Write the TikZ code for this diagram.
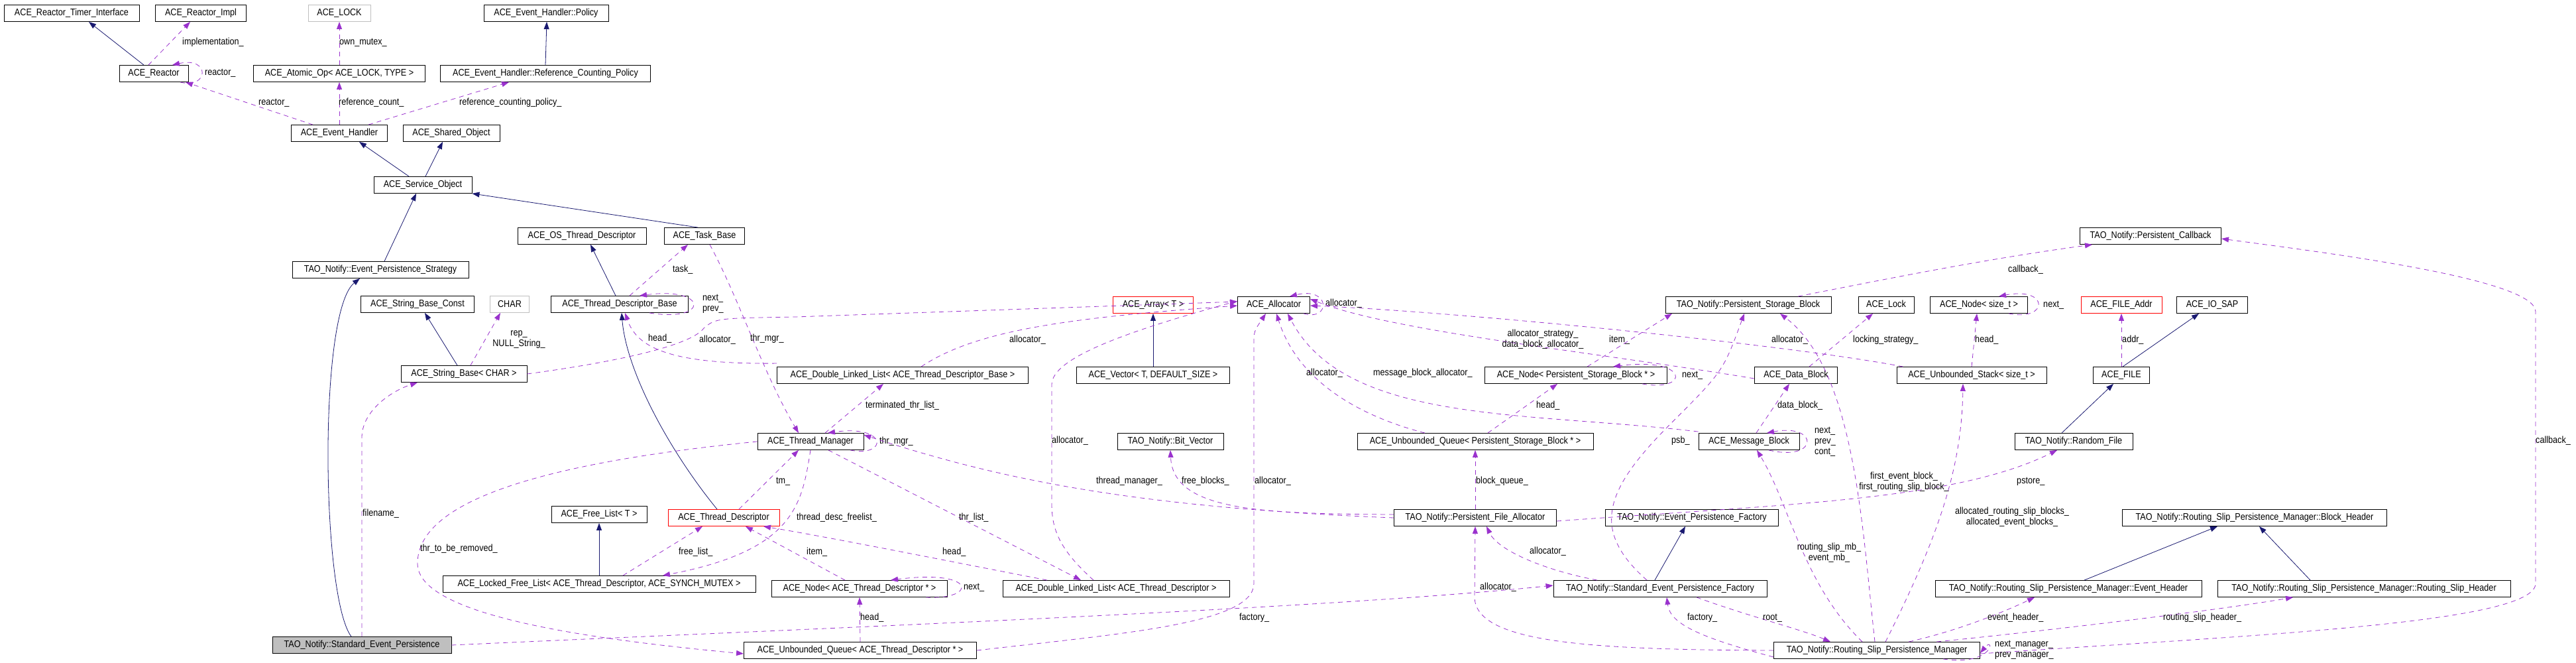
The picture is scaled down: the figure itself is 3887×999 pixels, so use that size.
\documentclass[tikz,border=0pt]{standalone}
\usepackage{fontspec}
\setmainfont{Liberation Sans}[FakeStretch=0.87]
\usetikzlibrary{arrows.meta}
\definecolor{inhc}{RGB}{25,25,112}
\definecolor{usec}{RGB}{154,50,205}
\definecolor{grayb}{RGB}{191,191,191}
\tikzset{
  box/.style={draw=black,line width=0.9pt,minimum height=25pt,inner sep=0pt,font=\fontsize{14.5}{15}\selectfont,fill=white},
  redbox/.style={box,draw=red},
  graybox/.style={box,draw=grayb},
  inh/.style={draw=inhc,line width=0.8pt,-{Triangle[length=11pt,width=8pt]}},
  use/.style={draw=usec,line width=0.8pt,dash pattern=on 7pt off 6pt,-{Triangle[length=11pt,width=8pt]}},
  lbl/.style={font=\fontsize{14.5}{16}\selectfont,inner sep=0pt,anchor=west,align=left},
  clbl/.style={font=\fontsize{14.5}{16}\selectfont,inner sep=0pt,align=center},
}
\begin{document}
\begin{tikzpicture}[x=1pt,y=-1pt]
\useasboundingbox (0,0) rectangle (3887,999);
% nodes
\node[box,minimum width=204pt] (rti) at (108,20) {ACE\_Reactor\_Timer\_Interface};
\node[box,minimum width=137pt] (rimpl) at (303,20) {ACE\_Reactor\_Impl};
\node[graybox,minimum width=94pt] (lock) at (512,20) {ACE\_LOCK};
\node[box,minimum width=188pt] (policy) at (824,20) {ACE\_Event\_Handler::Policy};
\node[box,minimum width=104pt] (reactor) at (232,111) {ACE\_Reactor};
\node[box,minimum width=259pt] (atomic) at (512,111) {ACE\_Atomic\_Op< ACE\_LOCK, TYPE >};
\node[box,minimum width=317pt] (rcp) at (823,111) {ACE\_Event\_Handler::Reference\_Counting\_Policy};
\node[box,minimum width=145pt] (eh) at (512,201) {ACE\_Event\_Handler};
\node[box,minimum width=146pt] (so) at (681,201) {ACE\_Shared\_Object};
\node[box,minimum width=148pt] (svc) at (638,279) {ACE\_Service\_Object};
\node[box,minimum width=266pt] (eps) at (574,407) {TAO\_Notify::Event\_Persistence\_Strategy};
\node[box,minimum width=171pt] (sbc) at (630,459) {ACE\_String\_Base\_Const};
\node[graybox,minimum width=59pt] (char) at (769,459) {CHAR};
\node[box,minimum width=194pt] (ostd) at (878,356) {ACE\_OS\_Thread\_Descriptor};
\node[box,minimum width=207pt] (tdb) at (935,459) {ACE\_Thread\_Descriptor\_Base};
\node[box,minimum width=121pt] (task) at (1063,356) {ACE\_Task\_Base};
\node[box,minimum width=190pt] (sb) at (700,564) {ACE\_String\_Base< CHAR >};
\node[box,minimum width=160pt] (tm) at (1223,666) {ACE\_Thread\_Manager};
\node[redbox,minimum width=168pt] (td) at (1092,781) {ACE\_Thread\_Descriptor};
\node[box,minimum width=144pt] (fl) at (904,776) {ACE\_Free\_List< T >};
\node[box,minimum width=472pt] (lfl) at (904,881) {ACE\_Locked\_Free\_List< ACE\_Thread\_Descriptor, ACE\_SYNCH\_MUTEX >};
\node[redbox,minimum width=121pt] (array) at (1740,460) {ACE\_Array< T >};
\node[box,minimum width=109pt] (alloc) at (1922,460) {ACE\_Allocator};
\node[box,minimum width=379pt] (dlltdb) at (1362,566) {ACE\_Double\_Linked\_List< ACE\_Thread\_Descriptor\_Base >};
\node[box,minimum width=231pt] (vec) at (1740,566) {ACE\_Vector< T, DEFAULT\_SIZE >};
\node[box,minimum width=160pt] (bitvec) at (1766,666) {TAO\_Notify::Bit\_Vector};
\node[box,minimum width=265pt] (nodetd) at (1297,888) {ACE\_Node< ACE\_Thread\_Descriptor * >};
\node[box,minimum width=342pt] (dlltd) at (1684,888) {ACE\_Double\_Linked\_List< ACE\_Thread\_Descriptor >};
\node[box,minimum width=351pt] (uqtd) at (1298,981) {ACE\_Unbounded\_Queue< ACE\_Thread\_Descriptor * >};
\node[box,fill=grayb,minimum width=270pt] (sep) at (546,973) {TAO\_Notify::Standard\_Event\_Persistence};
\node[box,minimum width=250pt] (psb) at (2638,460) {TAO\_Notify::Persistent\_Storage\_Block};
\node[box,minimum width=84pt] (acelock) at (2846,460) {ACE\_Lock};
\node[box,minimum width=147pt] (nodesz) at (2986,460) {ACE\_Node< size\_t >};
\node[redbox,minimum width=122pt] (faddr) at (3201,460) {ACE\_FILE\_Addr};
\node[box,minimum width=107pt] (iosap) at (3338,460) {ACE\_IO\_SAP};
\node[box,minimum width=213pt] (cb) at (3245,356) {TAO\_Notify::Persistent\_Callback};
\node[box,minimum width=275pt] (nodepsb) at (2378,566) {ACE\_Node< Persistent\_Storage\_Block * >};
\node[box,minimum width=125pt] (db) at (2710,566) {ACE\_Data\_Block};
\node[box,minimum width=226pt] (us) at (2975,566) {ACE\_Unbounded\_Stack< size\_t >};
\node[box,minimum width=85pt] (file) at (3201,566) {ACE\_FILE};
\node[box,minimum width=356pt] (uqpsb) at (2226,666) {ACE\_Unbounded\_Queue< Persistent\_Storage\_Block * >};
\node[box,minimum width=152pt] (mb) at (2639,666) {ACE\_Message\_Block};
\node[box,minimum width=178pt] (rf) at (3129,666) {TAO\_Notify::Random\_File};
\node[box,minimum width=245pt] (pfa) at (2226,781) {TAO\_Notify::Persistent\_File\_Allocator};
\node[box,minimum width=261pt] (epf) at (2553,781) {TAO\_Notify::Event\_Persistence\_Factory};
\node[box,minimum width=399pt] (bh) at (3402,781) {TAO\_Notify::Routing\_Slip\_Persistence\_Manager::Block\_Header};
\node[box,minimum width=322pt] (sepf) at (2505,888) {TAO\_Notify::Standard\_Event\_Persistence\_Factory};
\node[box,minimum width=402pt] (evh) at (3121,888) {TAO\_Notify::Routing\_Slip\_Persistence\_Manager::Event\_Header};
\node[box,minimum width=442pt] (rsh) at (3567,888) {TAO\_Notify::Routing\_Slip\_Persistence\_Manager::Routing\_Slip\_Header};
\node[box,minimum width=311pt] (rspm) at (2832,981) {TAO\_Notify::Routing\_Slip\_Persistence\_Manager};

% inheritance
\draw[inh] ([xshift=-15]reactor.north) -- ([xshift=26]rti.south);
\draw[inh] (vec.north) -- (array.south);
\draw[inh] (rcp.north) -- ([xshift=1]policy.south);
\draw[inh] ([xshift=-21]svc.north) -- ([xshift=30]eh.south);
\draw[inh] ([xshift=4]svc.north) -- ([xshift=-13]so.south);
\draw[inh] ([xshift=6]eps.north) -- ([xshift=-10]svc.south);
\draw[inh] ([xshift=-10]task.north) -- (svc.south east);
\draw[inh] ([xshift=-16]sep.north) .. controls (485,900) and (480,470) .. ([xshift=-31]eps.south);
\draw[inh] ([xshift=-10]sb.north) -- ([xshift=11]sbc.south);
\draw[inh] ([xshift=-6]tdb.north) -- ([xshift=13]ostd.south);
\draw[inh] ([xshift=-10]td.north) .. controls (1010,680) and (945,560) .. ([xshift=3]tdb.south);
\draw[inh] (lfl.north) -- (fl.south);
\draw[inh] ([xshift=-8]sepf.north) -- ([xshift=-10]epf.south);
\draw[inh] ([xshift=2]file.north) -- ([xshift=-20]iosap.south);
\draw[inh] ([xshift=-18]rf.north) -- ([xshift=-12]file.south);
\draw[inh] ([xshift=24]evh.north) -- ([xshift=-56]bh.south);
\draw[inh] ([xshift=-81]rsh.north) -- ([xshift=7]bh.south);

% usage
\draw[use] ([xshift=-8]reactor.north) -- ([xshift=-16]rimpl.south);
\node[lbl] (l1) at (275,64) {implementation\_};
\draw[use] ([xshift=40]reactor.south) .. controls (315,135) and (318,85) .. ([xshift=28]reactor.north);
\node[lbl] (l2) at (309,110) {reactor\_};
\draw[use] ([xshift=-40]eh.north) -- ([xshift=48]reactor.south);
\node[lbl] (l3) at (390,155) {reactor\_};
\draw[use] (eh.north) -- (atomic.south);
\node[lbl] (l4) at (511,155) {reference\_count\_};
\draw[use] ([xshift=44]eh.north) -- ([xshift=-55]rcp.south);
\node[lbl] (l5) at (693,155) {reference\_counting\_policy\_};
\draw[use] (atomic.north) -- (lock.south);
\node[lbl] (l6) at (512,64) {own\_mutex\_};

\draw[use] ([xshift=10]sb.north) -- ([xshift=-14]char.south);
\node[clbl] (l7) at (783,512) {rep\_\\NULL\_String\_};
\draw[use] (sb.east) .. controls (900,550) and (1040,525) .. (1062,495) .. controls (1080,480) .. (1200,478) -- ([yshift=5]alloc.west);
\node[lbl] (l8) at (1055,513) {allocator\_};
\draw[use] ([xshift=45]tdb.south) .. controls (1070,487) and (1070,432) .. ([xshift=30]tdb.north);
\node[lbl] (l9) at (1060,458) {next\_\\prev\_};
\draw[use] ([xshift=15]tdb.north) -- ([xshift=-25]task.south);
\node[lbl] (l10) at (1015,407) {task\_};
\draw[use] ([xshift=8]task.south) .. controls (1115,450) and (1150,560) .. ([xshift=-18]tm.north);
\node[lbl] (l11) at (1132,511) {thr\_mgr\_};
\draw[use] ([yshift=5]dlltdb.north west) .. controls (1000,550) and (960,520) .. ([xshift=8]tdb.south);
\node[lbl] (l12) at (978,511) {head\_};
\draw[use] ([xshift=28]dlltdb.north) .. controls (1470,500) and (1600,480) .. ([yshift=-1]alloc.west);
\node[lbl] (l13) at (1523,513) {allocator\_};
\draw[use] ([xshift=22]tm.north) -- ([xshift=-29]dlltdb.south);
\node[lbl] (l14) at (1306,612) {terminated\_thr\_list\_};
\draw[use] ([xshift=60]tm.south) .. controls (1340,690) and (1340,640) .. ([xshift=26]tm.north);
\node[lbl] (l15) at (1327,666) {thr\_mgr\_};
\draw[use] ([xshift=23]td.north) -- ([xshift=-18]tm.south);
\node[lbl] (l16) at (1171,726) {tm\_};
\draw[use] (tm.south) .. controls (1210,760) and (1200,830) .. ([xshift=96]lfl.north);
\node[lbl] (l17) at (1202,781) {thread\_desc\_freelist\_};
\draw[use] ([xshift=27]tm.south) -- ([xshift=-53]dlltd.north);
\node[lbl] (l18) at (1447,781) {thr\_list\_};
\draw[use] (tm.west) .. controls (800,700) and (630,760) .. (630,850) .. controls (630,930) and (900,965) .. ([yshift=-5]uqtd.west);
\node[lbl] (l19) at (634,828) {thr\_to\_be\_removed\_};
\draw[use] ([xshift=36]lfl.north) -- ([xshift=-32]td.south);
\node[lbl] (l20) at (1024,833) {free\_list\_};
\draw[use] ([xshift=-22]nodetd.north) -- ([xshift=33]td.south);
\node[lbl] (l21) at (1217,833) {item\_};
\draw[use] ([xshift=-104]dlltd.north) .. controls (1450,850) and (1250,810) .. ([xshift=60]td.south);
\node[lbl] (l22) at (1422,833) {head\_};
\draw[use] ([xshift=100]nodetd.south) .. controls (1475,905) and (1475,858) .. ([xshift=47]nodetd.north);
\node[lbl] (l23) at (1454,886) {next\_};
\draw[use] (uqtd.north) -- (nodetd.south);
\node[lbl] (l24) at (1298,932) {head\_};
\draw[use] (uqtd.east) .. controls (1700,955) and (1892,940) .. (1892,880) -- (1892,520) .. controls (1892,500) .. ([xshift=-12]alloc.south);
\node[lbl] (l25) at (1893,726) {allocator\_};
\draw[use] ([xshift=-34]dlltd.north) .. controls (1600,830) and (1587,800) .. (1587,760) -- (1587,580) .. controls (1587,540) and (1700,500) .. ([yshift=6]alloc.west);
\node[lbl] (l26) at (1587,665) {allocator\_};
\draw[use] ([xshift=45]alloc.south) .. controls (2008,485) and (2008,432) .. ([xshift=24]alloc.north);
\node[lbl] (l27) at (2000,458) {allocator\_};
\draw[use] (sep.north) -- (546,660) .. controls (546,620) and (590,590) .. ([xshift=-70]sb.south);
\node[lbl] (l28) at (547,775) {filename\_};
\draw[use] (sep.east) .. controls (1300,945) and (2000,918) .. ([yshift=5]sepf.west);
\node[lbl] (l29) at (1870,932) {factory\_};
\draw[use] (pfa.west) .. controls (1700,765) and (1500,720) .. ([yshift=10]tm.east);
\node[lbl] (l30) at (1654,726) {thread\_manager\_};
\draw[use] ([yshift=5]pfa.west) .. controls (1900,775) and (1770,770) .. (bitvec.south);
\node[lbl] (l31) at (1783,726) {free\_blocks\_};
\draw[use] (pfa.north) -- (uqpsb.south);
\node[lbl] (l32) at (2227,726) {block\_queue\_};
\draw[use] ([yshift=-5]pfa.east) .. controls (2700,760) and (2950,755) .. ([xshift=-25]rf.south);
\node[lbl] (l33) at (3043,726) {pstore\_};
\draw[use] ([xshift=19]uqpsb.north) -- ([xshift=-28]nodepsb.south);
\node[lbl] (l34) at (2318,612) {head\_};
\draw[use] ([xshift=-76]uqpsb.north) .. controls (2060,630) and (1960,580) .. ([xshift=4]alloc.south);
\node[lbl] (l35) at (1971,563) {allocator\_};
\draw[use] ([yshift=2]mb.north west) .. controls (2300,620) and (2030,640) .. ([xshift=21]alloc.south);
\node[lbl] (l36) at (2072,563) {message\_block\_allocator\_};
\draw[use] ([yshift=-5]db.west) .. controls (2400,530) and (2100,500) .. ([yshift=9]alloc.east);
\node[clbl] (l37) at (2328,512) {allocator\_strategy\_\\data\_block\_allocator\_};
\draw[use] ([xshift=10]us.north west) .. controls (2700,520) and (2200,470) .. ([yshift=-1]alloc.east);
\node[lbl] (l38) at (2673,513) {allocator\_};
\draw[use] ([xshift=17]nodepsb.north) -- ([xshift=-115]psb.south);
\node[lbl] (l39) at (2428,513) {item\_};
\draw[use] ([xshift=100]nodepsb.south) .. controls (2550,592) and (2550,538) .. ([xshift=56]nodepsb.north);
\node[lbl] (l40) at (2538,566) {next\_};
\draw[use] ([xshift=20]db.north) -- ([xshift=-20]acelock.south);
\node[lbl] (l41) at (2796,513) {locking\_strategy\_};
\draw[use] ([xshift=11]mb.north) -- ([xshift=-10]db.south);
\node[lbl] (l42) at (2682,612) {data\_block\_};
\draw[use] ([xshift=30]mb.south) .. controls (2745,697) and (2745,638) .. ([xshift=27]mb.north);
\node[lbl] (l43) at (2738,666) {next\_\\prev\_\\cont\_};
\draw[use] (us.north) -- ([xshift=-3]nodesz.south);
\node[lbl] (l44) at (2980,513) {head\_};
\draw[use] ([xshift=45]nodesz.south) .. controls (3092,485) and (3092,432) .. ([xshift=30]nodesz.north);
\node[lbl] (l45) at (3083,460) {next\_};
\draw[use] (file.north) -- (faddr.south);
\node[lbl] (l46) at (3202,513) {addr\_};
\draw[use] ([xshift=75]psb.north) .. controls (2850,420) and (3000,390) .. ([xshift=-88]cb.south);
\node[lbl] (l47) at (3030,407) {callback\_};
\draw[use] ([xshift=-95]sepf.north) .. controls (2330,860) and (2260,830) .. ([xshift=17]pfa.south);
\node[lbl] (l48) at (2308,832) {allocator\_};
\draw[use] ([xshift=-20]sepf.north) .. controls (2400,800) and (2420,740) .. (2520,640) .. controls (2600,560) .. ([xshift=-6]psb.south);
\node[lbl] (l49) at (2522,665) {psb\_};
\draw[use] ([xshift=55]sepf.south) .. controls (2640,930) and (2720,950) .. ([xshift=-70]rspm.north);
\node[lbl] (l50) at (2660,932) {root\_};
\draw[use] ([yshift=-10]rspm.west) .. controls (2560,960) and (2520,940) .. ([xshift=10]sepf.south);
\node[lbl] (l51) at (2546,932) {factory\_};
\draw[use] (rspm.west) .. controls (2400,980) and (2225,970) .. (2225,900) -- (pfa.south);
\node[lbl] (l52) at (2233,886) {allocator\_};
\draw[use] ([xshift=-22]rspm.north) .. controls (2720,880) and (2700,760) .. ([xshift=12]mb.south);
\node[clbl] (l53) at (2760,834) {routing\_slip\_mb\_\\event\_mb\_};
\draw[use] ([xshift=-3]rspm.north) .. controls (2810,800) and (2800,560) .. ([xshift=48]psb.south);
\node[clbl] (l54) at (2873,727) {first\_event\_block\_\\first\_routing\_slip\_block\_};
\draw[use] ([xshift=13]rspm.north) .. controls (2930,800) and (2960,700) .. ([xshift=-13]us.south);
\node[clbl] (l55) at (3036,780) {allocated\_routing\_slip\_blocks\_\\allocated\_event\_blocks\_};
\draw[use] ([xshift=48]rspm.north) .. controls (2960,950) and (3030,920) .. ([xshift=-51]evh.south);
\node[lbl] (l56) at (2999,932) {event\_header\_};
\draw[use] ([xshift=90]rspm.north) .. controls (3100,950) and (3350,920) .. ([xshift=-107]rsh.south);
\node[lbl] (l57) at (3264,932) {routing\_slip\_header\_};
\draw[use] ([yshift=-5]rspm.east) .. controls (3400,958) and (3826,940) .. (3826,880) -- (3826,470) .. controls (3826,420) and (3500,380) .. ([yshift=-4]cb.east);
\node[lbl] (l58) at (3826,665) {callback\_};
\draw[use] ([xshift=100]rspm.south) .. controls (3010,1005) and (3010,958) .. ([yshift=-4]rspm.east);
\node[lbl] (l59) at (3010,980) {next\_manager\_\\prev\_manager\_};
\end{tikzpicture}
\end{document}
